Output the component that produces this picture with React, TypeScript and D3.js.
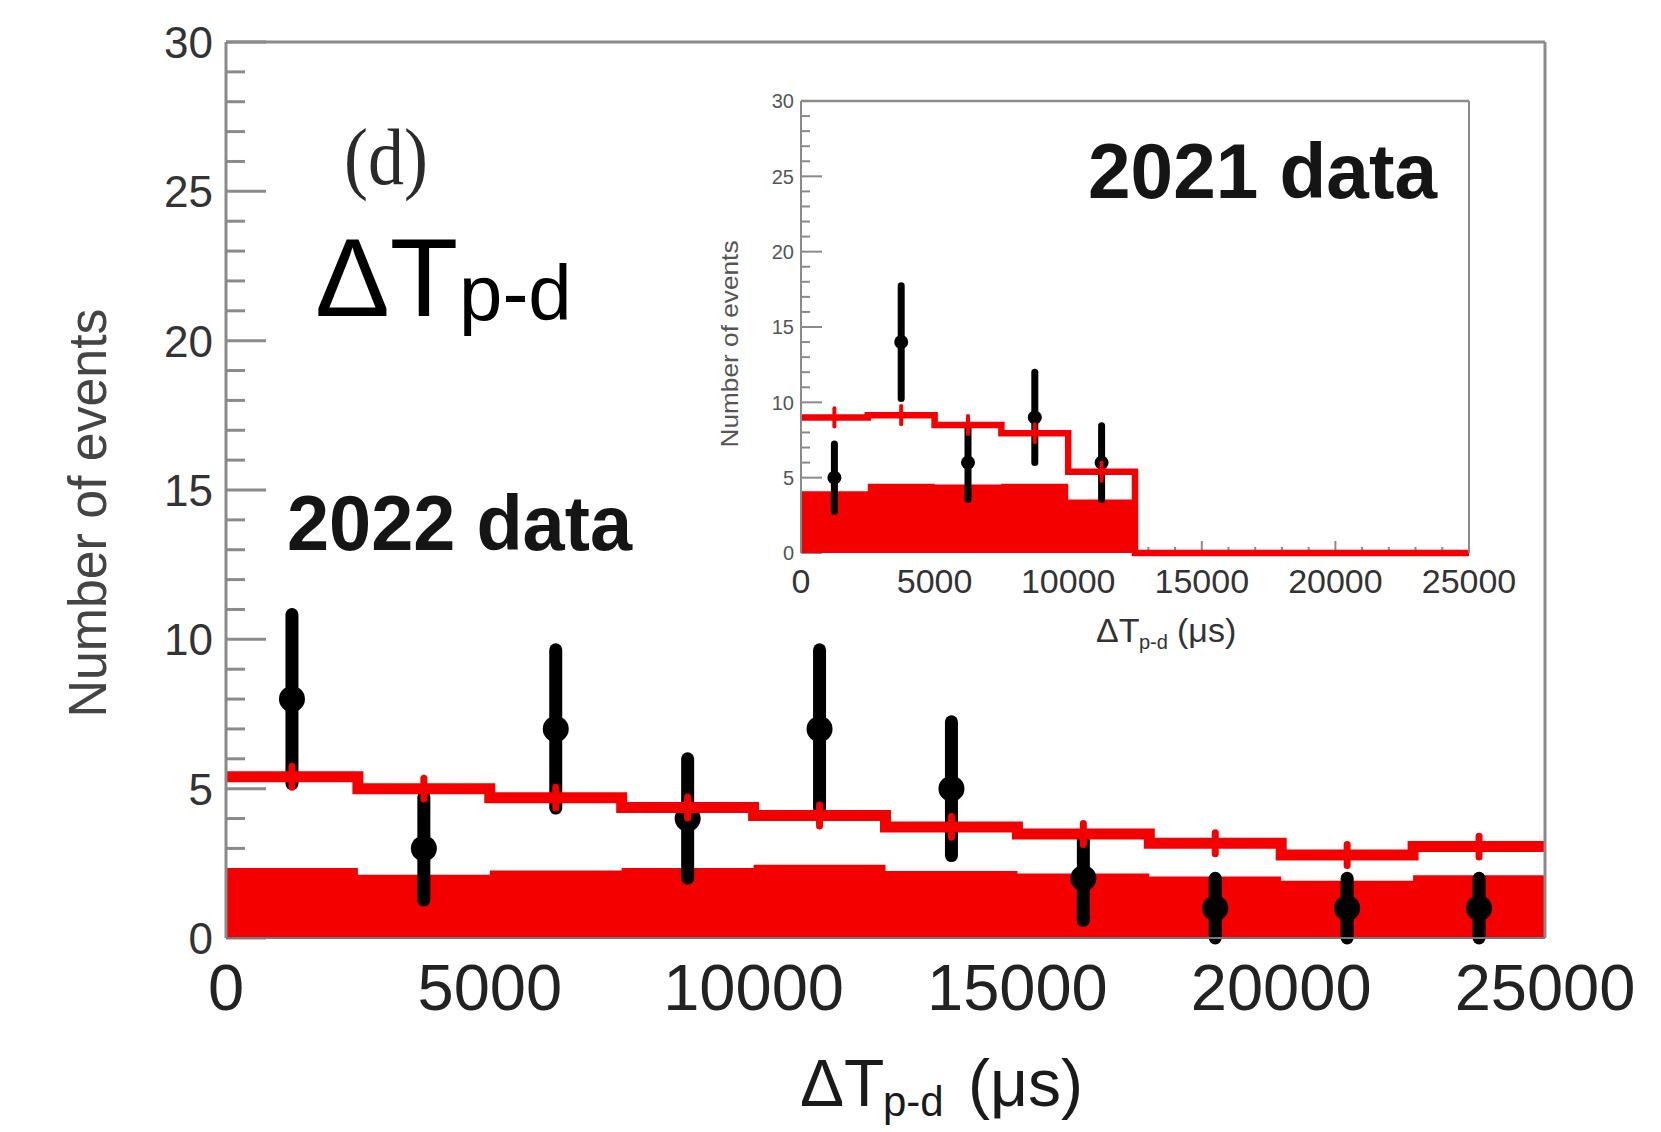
import React from 'react';
import * as d3 from 'd3';

// ---- data ----
const binEdges = [0, 2500, 5000, 7500, 10000, 12500, 15000, 17500, 20000, 22500, 25000];
const binCenters = [1250, 3750, 6250, 8750, 11250, 13750, 16250, 18750, 21250, 23750];

// 2022 data (main panel)
const data2022 = [8, 3, 7, 4, 7, 5, 2, 1, 1, 1];
const err2022 = [2.83, 1.73, 2.65, 2.0, 2.65, 2.24, 1.41, 1.0, 1.0, 1.0];
const expected2022 = [5.4, 5.0, 4.7, 4.37, 4.1, 3.72, 3.48, 3.17, 2.78, 3.06];
const background2022 = [2.34, 2.12, 2.26, 2.34, 2.45, 2.24, 2.16, 2.06, 1.92, 2.1];
const expErr2022 = [0.35, 0.35, 0.35, 0.35, 0.35, 0.35, 0.35, 0.35, 0.35, 0.35];

// 2021 data (inset)
const centers2021 = [1250, 3750, 6250, 8750, 11250];
const data2021 = [5, 14, 6, 9, 6];
const err2021 = [2.24, 3.74, 2.45, 3.0, 2.45];
const expected2021 = [9.0, 9.15, 8.5, 7.95, 5.4, 0, 0, 0, 0, 0];
const background2021 = [4.1, 4.6, 4.55, 4.6, 3.55, 0, 0, 0, 0, 0];
const expErr2021 = [0.6, 0.6, 0.6, 0.6, 0.6];

const yTickValues = [0, 5, 10, 15, 20, 25, 30];
const xTickValues = [0, 5000, 10000, 15000, 20000, 25000];

const RED = '#f40000';
const AXIS = '#8a8a8a';
const SANS = '"Liberation Sans", Arial, Helvetica, sans-serif';
const SERIF = '"Liberation Serif", "Times New Roman", serif';

function stepPoints(values: number[]): [number, number][] {
  const pts: [number, number][] = [];
  values.forEach((v, i) => {
    pts.push([binEdges[i], v]);
    pts.push([binEdges[i + 1], v]);
  });
  return pts;
}

export default function App() {
  // main scales
  const x = d3.scaleLinear().domain([0, 25000]).range([226, 1545]);
  const y = d3.scaleLinear().domain([0, 30]).range([938, 42]);
  // inset scales
  const xi = d3.scaleLinear().domain([0, 25000]).range([801, 1469]);
  const yi = d3.scaleLinear().domain([0, 30]).range([553, 101]);

  const lineMain = d3.line<[number, number]>().x(d => x(d[0])).y(d => y(d[1]));
  const areaMain = d3.area<[number, number]>().x(d => x(d[0])).y0(y(0)).y1(d => y(d[1]));
  const lineIn = d3.line<[number, number]>().x(d => xi(d[0])).y(d => yi(d[1]));
  const areaIn = d3.area<[number, number]>().x(d => xi(d[0])).y0(yi(0)).y1(d => yi(d[1]));

  const yMinor = y.ticks(30);
  const xMinorIn = xi.ticks(25);

  return (
    <svg width={1661} height={1132} style={{ position: 'absolute', left: 0, top: 0, display: 'block', background: '#fff' }}>
      <rect x={0} y={0} width={1661} height={1132} fill="#fff" />

      {/* ===== MAIN PANEL ===== */}
      {yMinor.map(t => (
        <line key={'ym' + t} x1={x(0)} x2={x(0) + (t % 5 === 0 ? 40 : 19)} y1={y(t)} y2={y(t)} stroke={AXIS} strokeWidth={3} />
      ))}
      <path d={areaMain(stepPoints(background2022)) || ''} fill={RED} />
      {binCenters.map((c, i) => (
        <g key={'p' + i}>
          <line x1={x(c)} x2={x(c)} y1={y(data2022[i] - err2022[i])} y2={y(data2022[i] + err2022[i])} stroke="#000" strokeWidth={13} strokeLinecap="round" />
          <circle cx={x(c)} cy={y(data2022[i])} r={13} fill="#000" />
        </g>
      ))}
      <path d={lineMain(stepPoints(expected2022)) || ''} fill="none" stroke={RED} strokeWidth={11} />
      {binCenters.map((c, i) => (
        <line key={'ee' + i} x1={x(c)} x2={x(c)} y1={y(expected2022[i] - expErr2022[i])} y2={y(expected2022[i] + expErr2022[i])} stroke={RED} strokeWidth={7} strokeLinecap="round" />
      ))}
      <line x1={x(0)} x2={x(0)} y1={y(0)} y2={y(30)} stroke={AXIS} strokeWidth={3} />
      <line x1={x(0)} x2={x(25000)} y1={y(30)} y2={y(30)} stroke={AXIS} strokeWidth={3} />
      <line x1={x(25000)} x2={x(25000)} y1={y(30)} y2={y(0)} stroke={AXIS} strokeWidth={3} />
      <line x1={x(0)} x2={x(25000)} y1={y(0)} y2={y(0)} stroke="#777" strokeWidth={2} />

      {yTickValues.map(t => (
        <text key={'yl' + t} x={213} y={y(t)} dy="0.36em" textAnchor="end" fontFamily={SANS} fontSize={44} fill="#333">{t}</text>
      ))}
      {xTickValues.map(t => (
        <text key={'xl' + t} x={x(t)} y={1010} textAnchor="middle" fontFamily={SANS} fontSize={65} fill="#222">{t}</text>
      ))}
      <text transform="translate(106,513) rotate(-90)" textAnchor="middle" fontFamily={SANS} fontSize={54} fill="#444" textLength={409} lengthAdjust="spacingAndGlyphs">Number of events</text>
      <text fontFamily={SANS} fill="#1a1a1a">
        <tspan x={800} y={1106} fontSize={66}>ΔT</tspan>
        <tspan x={883} y={1116} fontSize={42}>p-d</tspan>
        <tspan x={968} y={1106} fontSize={66}>(μs)</tspan>
      </text>

      <text transform="translate(344,184) scale(1,1.12)" fontFamily={SERIF} fontSize={72} fill="#2a2a2a">(d)</text>
      <text fontFamily={SANS} fill="#000">
        <tspan x={315} y={316} fontSize={112}>ΔT</tspan>
        <tspan x={459} y={320} fontSize={78}>p-d</tspan>
      </text>
      <text x={287} y={550} fontFamily={SANS} fontWeight="bold" fontSize={78} fill="#151515" textLength={345} lengthAdjust="spacingAndGlyphs">2022 data</text>

      {/* ===== INSET ===== */}
      {yi.ticks(30).map(t => (
        <line key={'iym' + t} x1={xi(0)} x2={xi(0) + (t % 5 === 0 ? 21 : 9)} y1={yi(t)} y2={yi(t)} stroke={AXIS} strokeWidth={2} />
      ))}
      {xMinorIn.map(t => (
        <line key={'ixm' + t} x1={xi(t)} x2={xi(t)} y1={yi(0)} y2={yi(0) - (t % 5000 === 0 ? 12 : 6)} stroke={AXIS} strokeWidth={2} />
      ))}
      <path d={areaIn(stepPoints(background2021)) || ''} fill={RED} />
      {centers2021.map((c, i) => (
        <g key={'ip' + i}>
          <line x1={xi(c)} x2={xi(c)} y1={yi(data2021[i] - err2021[i])} y2={yi(data2021[i] + err2021[i])} stroke="#000" strokeWidth={7} strokeLinecap="round" />
          <circle cx={xi(c)} cy={yi(data2021[i])} r={7} fill="#000" />
        </g>
      ))}
      <path d={lineIn(stepPoints(expected2021)) || ''} fill="none" stroke={RED} strokeWidth={6.5} />
      {centers2021.map((c, i) => (
        <line key={'iee' + i} x1={xi(c)} x2={xi(c)} y1={yi(expected2021[i] - expErr2021[i])} y2={yi(expected2021[i] + expErr2021[i])} stroke={RED} strokeWidth={4} strokeLinecap="round" />
      ))}
      <line x1={xi(0)} x2={xi(0)} y1={yi(0)} y2={yi(30)} stroke={AXIS} strokeWidth={2} />
      <line x1={xi(0)} x2={xi(25000)} y1={yi(30)} y2={yi(30)} stroke={AXIS} strokeWidth={2.5} />
      <line x1={xi(25000)} x2={xi(25000)} y1={yi(30)} y2={yi(0)} stroke={AXIS} strokeWidth={2} />

      {yTickValues.map(t => (
        <text key={'iyl' + t} x={794} y={yi(t)} dy="0.36em" textAnchor="end" fontFamily={SANS} fontSize={20} fill="#555">{t}</text>
      ))}
      {xTickValues.map(t => (
        <text key={'ixl' + t} x={xi(t)} y={593} textAnchor="middle" fontFamily={SANS} fontSize={34} fill="#333">{t}</text>
      ))}
      <text transform="translate(738,344) rotate(-90)" textAnchor="middle" fontFamily={SANS} fontSize={24} fill="#555" textLength={207} lengthAdjust="spacingAndGlyphs">Number of events</text>
      <text fontFamily={SANS} fill="#333">
        <tspan x={1096} y={642} fontSize={34}>ΔT</tspan>
        <tspan x={1139} y={649} fontSize={20}>p-d</tspan>
        <tspan x={1177} y={642} fontSize={34}>(μs)</tspan>
      </text>
      <text x={1088} y={198} fontFamily={SANS} fontWeight="bold" fontSize={78} fill="#151515" textLength={349} lengthAdjust="spacingAndGlyphs">2021 data</text>
    </svg>
  );
}
